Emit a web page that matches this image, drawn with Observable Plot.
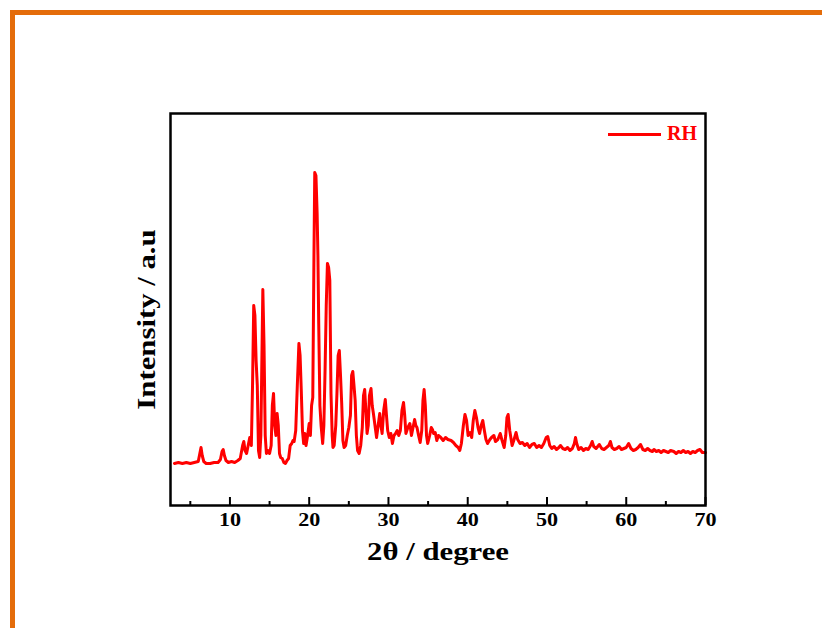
<!DOCTYPE html>
<html>
<head>
<meta charset="utf-8">
<script src="https://cdn.jsdelivr.net/npm/d3@7"></script>
<script src="https://cdn.jsdelivr.net/npm/@observablehq/plot@0.6"></script>
<style>
  html, body { margin: 0; padding: 0; background: #fff; }
  #wrap { position: relative; width: 822px; height: 628px; overflow: hidden; font-family: "Liberation Serif", "Times New Roman", serif; }
  .orange-top { position: absolute; left: 10px; top: 10px; width: 812px; height: 5px; background: #E46C0A; }
  .orange-left { position: absolute; left: 10px; top: 10px; width: 5px; height: 618px; background: #E46C0A; }
  #legend { position: absolute; left: 608px; top: 122px; display: flex; align-items: center; gap: 6px; color: #ff0000; font-weight: bold; font-size: 20px; }
  #legend .swatch { width: 53px; height: 3px; background: #ff0000; margin-top: 2px; }
  #plot { position: absolute; left: 0; top: 0; }
</style>
</head>
<body>
<div id="wrap">
  <div class="orange-top"></div>
  <div class="orange-left"></div>
  <div id="plot"></div>
  <div id="legend"><span class="swatch"></span><span>RH</span></div>
</div>
<script>
const twoTheta = [
  3.0,3.5,4.0,4.5,5.0,5.5,6.0,6.2,6.35,6.5,6.7,7.0,7.5,8.0,8.5,8.8,9.0,9.15,9.3,9.5,9.8,10.2,10.6,11.0,11.3,11.6,11.75,11.9,12.1,12.3,12.5,12.7,12.85,13.0,13.15,13.3,13.45,13.6,13.75,13.9,14.0,14.15,14.3,14.45,14.6,14.8,15.0,15.2,15.35,15.5,15.65,15.8,15.95,16.1,16.25,16.4,16.6,16.8,17.0,17.2,17.4,17.6,17.8,17.95,18.1,18.3,18.5,18.7,18.85,19.0,19.15,19.3,19.45,19.6,19.8,20.0,20.15,20.3,20.45,20.6,20.7,20.85,21.0,21.1,21.2,21.35,21.5,21.7,21.85,22.0,22.15,22.3,22.45,22.6,22.75,22.9,23.0,23.15,23.35,23.5,23.65,23.8,23.95,24.1,24.25,24.4,24.6,24.8,25.0,25.2,25.35,25.5,25.65,25.8,25.95,26.1,26.3,26.5,26.7,26.85,27.0,27.15,27.3,27.45,27.6,27.8,27.95,28.1,28.3,28.5,28.7,28.9,29.05,29.2,29.4,29.6,29.75,29.9,30.1,30.3,30.5,30.7,30.9,31.1,31.3,31.5,31.7,31.9,32.05,32.2,32.45,32.7,32.9,33.1,33.3,33.45,33.6,33.8,34.0,34.2,34.35,34.5,34.65,34.8,34.95,35.2,35.4,35.55,35.7,35.9,36.1,36.3,36.6,36.9,37.2,37.5,37.9,38.2,38.5,38.8,39.0,39.2,39.45,39.65,39.85,40.05,40.3,40.5,40.7,40.9,41.1,41.3,41.5,41.7,41.9,42.1,42.3,42.5,42.8,43.0,43.3,43.5,43.8,44.1,44.3,44.6,44.8,44.95,45.1,45.3,45.6,45.85,46.1,46.3,46.6,46.9,47.2,47.5,47.8,48.1,48.4,48.7,49.0,49.3,49.6,49.9,50.1,50.35,50.6,50.9,51.2,51.5,51.7,52.0,52.3,52.6,52.9,53.2,53.45,53.6,53.75,54.0,54.3,54.6,54.9,55.2,55.5,55.7,55.9,56.2,56.6,56.9,57.2,57.5,57.8,58.0,58.2,58.5,58.8,59.1,59.4,59.7,60.0,60.3,60.6,60.9,61.2,61.5,61.8,62.1,62.4,62.7,63.0,63.3,63.5,63.8,64.1,64.4,64.7,65.0,65.3,65.6,66.0,66.3,66.6,66.9,67.2,67.5,67.8,68.1,68.4,68.7,69.0,69.3,69.6,70.0
];
const intensity = [
  42,43,42,43,42,43,44,52,58,50,44,42,42,43,43,46,54,56,50,45,43,44,43,45,47,60,64,55,52,60,68,60,120,200,190,145,120,55,48,70,128,216,160,70,52,55,52,60,100,112,80,70,92,80,52,48,47,43,42,45,47,60,62,65,64,75,120,162,150,115,75,62,72,60,70,82,70,100,108,250,333,330,292,250,182,100,80,62,80,135,200,242,238,225,112,70,58,60,80,112,150,155,130,102,65,58,60,70,78,90,130,134,120,105,70,55,52,60,78,110,116,95,72,80,110,117,100,92,80,68,80,92,80,72,95,106,90,75,68,72,62,70,72,75,70,75,95,103,90,72,78,82,70,78,86,80,78,70,63,75,105,116,100,70,62,70,78,76,72,73,65,70,68,65,68,66,65,63,60,58,55,62,80,91,85,70,73,68,85,95,88,78,72,80,85,75,66,62,66,68,70,64,66,72,66,58,70,88,91,75,60,66,73,66,62,63,60,62,58,61,62,58,60,58,62,68,69,60,57,59,56,58,60,57,56,58,55,57,62,68,62,56,58,55,57,56,60,64,59,57,61,57,56,58,60,64,58,56,57,59,56,57,58,62,57,55,56,58,61,56,55,57,55,54,56,54,55,53,55,54,53,55,54,52,54,53,55,53,54,52,54,53,55,56,53,53
];
const majorTicks = [10, 20, 30, 40, 50, 60, 70];
const minorTicks = [5, 15, 25, 35, 45, 55, 65];
const xLabel = "2θ / degree";
const yLabel = "Intensity / a.u";
const seriesName = "RH";

const data = twoTheta.map((t, i) => ({t, v: intensity[i]}));
const font = "'Liberation Serif', 'Times New Roman', serif";

const chart = Plot.plot({
  width: 822,
  height: 628,
  marginLeft: 170,
  marginRight: 117,
  marginTop: 113,
  marginBottom: 123,
  style: {fontFamily: font, background: "transparent", overflow: "visible"},
  x: {domain: [2.5, 70]},
  y: {domain: [0, 392], axis: null},
  marks: [
    Plot.line(data, {x: "t", y: "v", stroke: "#ff0000", strokeWidth: 3, strokeLinejoin: "round"}),
    Plot.ruleX(majorTicks, {x: d => d, y1: 0, y2: 8, stroke: "#000", strokeWidth: 2}),
    Plot.ruleX(minorTicks, {x: d => d, y1: 0, y2: 4, stroke: "#000", strokeWidth: 2}),
    Plot.axisX({ticks: majorTicks, tickSize: 0, tickPadding: 8, label: null, fontSize: 18, fontWeight: "bold", fill: "#000"}),
    Plot.frame({stroke: "#000", strokeWidth: 2.5}),
    Plot.text([xLabel], {frameAnchor: "bottom", text: d => d, dy: 46, fontSize: 25, fontWeight: "bold", fill: "#000", lineAnchor: "middle", textAnchor: "middle"}),
    Plot.text([yLabel], {frameAnchor: "left", text: d => d, dx: -24, dy: 10, rotate: -90, fontSize: 25, fontWeight: "bold", fill: "#000", lineAnchor: "middle", textAnchor: "middle"})
  ]
});
document.getElementById("plot").appendChild(chart);
document.getElementById("legend").lastChild.textContent = seriesName;

// The reference's serif text is drawn slightly wider than Times metrics
d3.select(chart).selectAll("text").each(function () {
  const len = this.getComputedTextLength();
  if (len > 0) {
    this.setAttribute("textLength", (len * 1.23).toFixed(1));
    this.setAttribute("lengthAdjust", "spacingAndGlyphs");
  }
});
</script>
</body>
</html>
